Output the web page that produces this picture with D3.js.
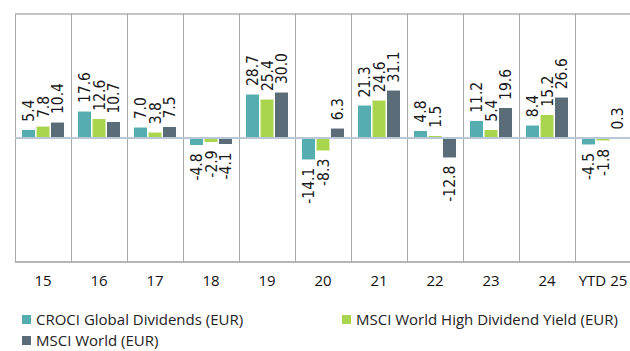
<!DOCTYPE html>
<html lang="en">

<head>
    <meta charset="UTF-8">
    <title>CROCI Global Dividends calendar returns</title>
    <style>
        html,
        body {
            padding: 0;
            margin: 0;
            background: #fff;
            overflow: hidden;
        }

        line,
        rect {
            shape-rendering: crispEdges;
        }
    </style>
</head>

<body>

    <script src="https://cdn.jsdelivr.net/npm/d3@7"></script>
    <script>

        const categories = ['15', '16', '17', '18', '19', '20', '21', '22', '23', '24', 'YTD 25']
        const seriesNames = [
            'CROCI Global Dividends (EUR)',
            'MSCI World High Dividend Yield (EUR)',
            'MSCI World (EUR)'
        ]
        const croci = [5.4, 17.6, 7.0, -4.8, 28.7, -14.1, 21.3, 4.8, 11.2, 8.4, -4.5]
        const highDiv = [7.8, 12.6, 3.8, -2.9, 25.4, -8.3, 24.6, 1.5, 5.4, 15.2, -1.8]
        const world = [10.4, 10.7, 7.5, -4.1, 30.0, 6.3, 31.1, -12.8, 19.6, 26.6, 0.3]
        const colors = ['#56adb0', '#a8d44e', '#5a6c78']

        const width = 630
        const height = 351

        const plot = { left: 15, right: 631, top: 14, bottom: 262 }

        const svg = d3.select('body')
            .append('svg')
            .attr('width', width)
            .attr('height', height)

        const x = d3.scaleBand()
            .domain(categories)
            .range([plot.left, plot.right])

        const x1 = d3.scaleBand()
            .domain(seriesNames)
            .range([0, x.bandwidth()])
            .paddingInner(0.07)
            .paddingOuter(0.48)

        const y = d3.scaleLinear()
            .domain([-81, 81])
            .range([plot.bottom, plot.top])

        // rows: one per category, each with the three series
        const rows = categories.map((c, i) => ({
            cat: c,
            values: [croci[i], highDiv[i], world[i]].map((v, j) => ({ name: seriesNames[j], v: v, k: j }))
        }))

        // frame and category separators
        svg.append('line')
            .attr('x1', plot.left).attr('x2', plot.right)
            .attr('y1', plot.top).attr('y2', plot.top)
            .attr('stroke', '#c3c3c3')
            .attr('stroke-width', 1.5)

        svg.append('line')
            .attr('x1', plot.left).attr('x2', plot.right)
            .attr('y1', plot.bottom).attr('y2', plot.bottom)
            .attr('stroke', '#b5b5b5')
            .attr('stroke-width', 1.5)

        svg.selectAll('.sep')
            .data(categories)
            .enter()
            .append('line')
            .attr('class', 'sep')
            .attr('x1', (d) => x(d)).attr('x2', (d) => x(d))
            .attr('y1', plot.top).attr('y2', plot.bottom)
            .attr('stroke', '#a9a9a9')
            .attr('stroke-width', 1)

        const groups = svg.selectAll('.group')
            .data(rows)
            .enter()
            .append('g')
            .attr('class', 'group')
            .attr('transform', (d) => `translate(${x(d.cat)}, 0)`)

        groups.selectAll('rect')
            .data((d) => d.values)
            .enter()
            .append('rect')
            .attr('x', (d) => x1(d.name))
            .attr('y', (d) => y(Math.max(0, d.v)))
            .attr('width', x1.bandwidth())
            .attr('height', (d) => Math.abs(y(d.v) - y(0)))
            .attr('fill', (d) => colors[d.k])
            .attr('stroke', 'rgba(255, 255, 255, 0.55)')
            .attr('stroke-width', 1)

        // zero line on top of the bars
        svg.append('line')
            .attr('x1', plot.left).attr('x2', plot.right)
            .attr('y1', y(0)).attr('y2', y(0))
            .attr('stroke', '#b9c8d6')
            .attr('stroke-width', 1.5)

        // rotated value labels
        groups.selectAll('.label')
            .data((d) => d.values)
            .enter()
            .append('text')
            .attr('class', 'label')
            .attr('transform', (d) => {
                const cx = x1(d.name) + x1.bandwidth() / 2
                const cy = d.v >= 0 ? y(d.v) - 8 : y(d.v) + 8
                return `translate(${cx}, ${cy}) rotate(-90)`
            })
            .attr('dy', '0.36em')
            .attr('text-anchor', (d) => d.v >= 0 ? 'start' : 'end')
            .attr('font-family', '"DejaVu Sans Condensed", "DejaVu Sans", sans-serif')
            .attr('font-size', 15.5)
            .attr('fill', '#1a1a1a')
            .text((d) => d.v.toFixed(1))

        // category labels
        svg.selectAll('.cat')
            .data(categories)
            .enter()
            .append('text')
            .attr('class', 'cat')
            .attr('x', (d) => x(d) + x.bandwidth() / 2)
            .attr('y', 286)
            .attr('text-anchor', 'middle')
            .attr('font-family', '"Open Sans", sans-serif')
            .attr('font-size', 15)
            .attr('fill', '#111')
            .text((d) => d)

        // legend
        const legendPos = [
            { x: 22, y: 315 },
            { x: 342, y: 315 },
            { x: 22, y: 336 }
        ]

        const legend = svg.selectAll('.legend')
            .data(seriesNames)
            .enter()
            .append('g')
            .attr('class', 'legend')
            .attr('transform', (d, i) => `translate(${legendPos[i].x}, ${legendPos[i].y})`)

        legend.append('rect')
            .attr('width', 9)
            .attr('height', 9)
            .attr('fill', (d, i) => colors[i])

        legend.append('text')
            .attr('x', 14)
            .attr('y', 9.5)
            .attr('font-family', '"Open Sans", sans-serif')
            .attr('font-size', 15)
            .attr('fill', '#222')
            .text((d) => d)

    </script>
</body>

</html>
